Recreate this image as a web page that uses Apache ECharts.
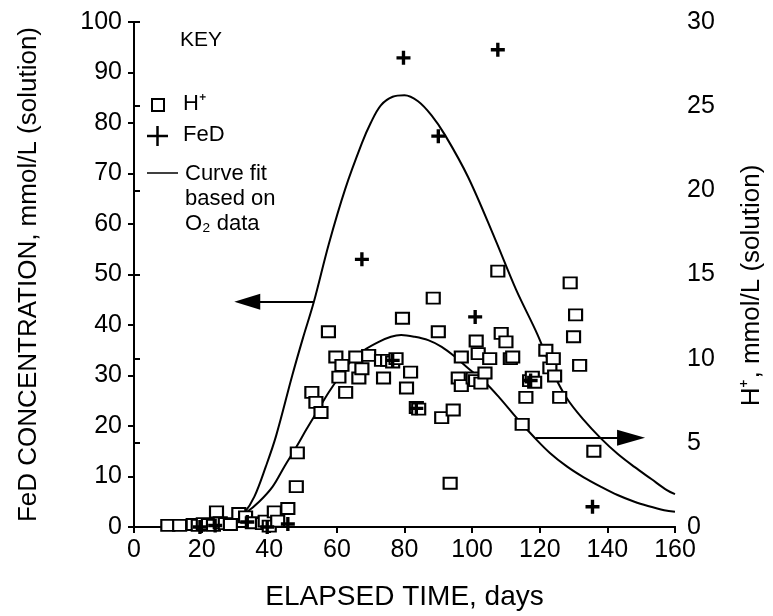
<!DOCTYPE html>
<html>
<head>
<meta charset="utf-8">
<script src="https://cdn.jsdelivr.net/npm/echarts@6/dist/echarts.min.js"></script>
<style>
html,body{margin:0;padding:0;background:#fff;}
#chart{width:773px;height:616px;}
</style>
</head>
<body>
<div id="chart"></div>
<script>
// ---- data ----
var xTicks = [0, 20, 40, 60, 80, 100, 120, 140, 160];
var feTicks = [0, 10, 20, 30, 40, 50, 60, 70, 80, 90, 100];
var hTicks = [0, 5, 10, 15, 20, 25, 30];

// H+ measurements (right axis, mmol/L)
var hDays = [10, 13.5, 17.5, 19, 20.5, 22, 23.5, 24.4, 25.5, 27, 28.5, 31, 33, 35, 38, 38.8, 40, 41.5, 42.5, 45.5, 48, 48.3,
  52.6, 53.8, 55.3, 57.5, 59.7, 60.6, 61.5, 62.6, 65.6, 66.5, 67.4, 69.4, 73.2, 73.8, 75, 76.5, 77.5, 79.4, 80.6, 81.8,
  83.5, 84.2, 88.5, 90, 91, 93.5, 94.4, 95.9, 96.8, 96.8, 100.3, 101, 101.2, 101.8, 102.6, 103.8, 105.2, 107.6, 108.6,
  110, 111.3, 112, 114.8, 115.9, 117, 117.8, 118.5, 121.8, 123, 124, 124.4, 125.9, 129, 130, 130.6, 131.8, 136];
var hVals = [0.1, 0.1, 0.15, 0.1, 0.2, 0.15, 0.1, 0.9, 0.25, 0.2, 0.15, 0.8, 0.6, 0.25, 0.2, 0.35, 0.05, 0.9, 0.35, 1.1, 2.4, 4.4,
  8.0, 7.4, 6.8, 11.6, 10.1, 8.9, 9.6, 8.0, 10.1, 8.85, 9.4, 10.2, 9.9, 8.85, 9.9, 9.8, 10.0, 12.4, 8.26, 9.2,
  7.1, 7.0, 13.6, 11.6, 6.5, 2.6, 6.95, 8.85, 8.4, 10.1, 8.85, 8.7, 11.05, 10.3, 8.55, 9.15, 10.0, 15.2, 11.5,
  11.0, 10.0, 10.1, 6.1, 7.7, 8.7, 8.9, 8.6, 10.5, 9.45, 10.0, 8.97, 7.7, 14.5, 11.3, 12.6, 9.6, 4.5];

// FeD measurements (left axis, mmol/L)
var feDays = [19.5, 24, 33.5, 39.4, 45.5, 67.4, 76.5, 79.7, 83.5, 90, 100.9, 107.6, 117.3, 135.6];
var feVals = [0, 0.3, 1.0, 0, 0.6, 53, 33, 92.9, 23.5, 77.4, 41.6, 94.5, 29, 4.0];

// Curve fit based on O2 data, FeD (left axis)
var fitFeDays = [26, 29.5, 32.6, 35.6, 39, 42, 46.8, 50, 53.2, 57.6, 62.5, 67.4, 70, 73, 76.5, 80, 84, 88, 92, 98.8, 106.8, 113, 119.4, 124, 128, 133, 138, 143, 148, 153, 157.6, 160];
var fitFeVals = [0.3, 1.2, 2.8, 6, 12, 18, 30, 37.5, 44.6, 56, 67, 76, 80, 83.5, 85.2, 85.5, 84.3, 81.5, 77.6, 69.3, 57, 47, 38, 30.5, 25.5, 21.2, 17.6, 14.5, 11.9, 9.5, 7.3, 6.5];

// Curve fit based on O2 data, H+ (right axis)
var fitHDays = [26, 30, 33, 37, 41, 44.5, 48, 51, 54, 57.6, 61, 64.4, 68, 72.4, 76, 79, 83, 87, 91, 95, 99, 103.8, 108, 113.5, 118.5, 123, 128, 133, 138, 143, 148, 152, 156.8, 160];
var fitHVals = [0.2, 0.5, 0.83, 1.5, 2.4, 3.6, 4.75, 5.8, 6.8, 8.0, 9.0, 9.9, 10.5, 11.0, 11.3, 11.4, 11.3, 11.1, 10.7, 10.1, 9.4, 8.6, 7.7, 6.4, 5.3, 4.4, 3.6, 2.95, 2.4, 1.9, 1.5, 1.25, 1.0, 0.9];

// arrows pointing to the axis each curve belongs to
var feArrow = {fromDay: 53.2, toDay: 33.5, level: 44.6};
var hArrow = {fromDay: 118.8, toDay: 147, level: 5.3};

function pairs(xs, ys) { return xs.map(function (x, i) { return [x, ys[i]]; }); }

var FONT = '"Liberation Sans", Arial, Helvetica, sans-serif';
var plus = 'path://M3.8,0H6.2V3.8H10V6.2H6.2V10H3.8V6.2H0V3.8H3.8Z';

var chart = echarts.init(document.getElementById('chart'), null, {renderer: 'canvas'});
var axisLine = {show: true, lineStyle: {color: '#000', width: 2}};
var tick = {show: true, inside: false, length: 6, lineStyle: {color: '#000', width: 2}};
var lab = {color: '#000', fontFamily: FONT, fontSize: 25};

var option = {
  animation: false,
  backgroundColor: '#fff',
  grid: {left: 134, right: 95, top: 22, bottom: 89, containLabel: false},
  xAxis: [{
    type: 'value', min: 0, max: 160, interval: 20, position: 'bottom',
    name: 'ELAPSED TIME, days', nameLocation: 'middle', nameGap: 56,
    nameTextStyle: {color: '#000', fontFamily: FONT, fontSize: 28},
    axisLine: axisLine, axisTick: tick, splitLine: {show: false},
    axisLabel: Object.assign({margin: 11}, lab)
  }, {
    type: 'value', min: 0, max: 160, position: 'top',
    axisLine: axisLine, axisTick: {show: false}, axisLabel: {show: false}, splitLine: {show: false}
  }],
  yAxis: [{
    type: 'value', min: 0, max: 100, interval: 10, position: 'left',
    name: 'FeD CONCENTRATION, mmol/L (solution)', nameLocation: 'middle', nameGap: 92,
    nameTextStyle: {color: '#000', fontFamily: FONT, fontSize: 26},
    axisLine: axisLine, axisTick: tick, splitLine: {show: false},
    axisLabel: Object.assign({margin: 12}, lab)
  }, {
    type: 'value', min: 0, max: 30, interval: 5, position: 'right',
    name: 'H\u207A, mmol/L (solution)', nameLocation: 'middle', nameGap: 64, nameRotate: 90,
    nameTextStyle: {color: '#000', fontFamily: FONT, fontSize: 26, padding: [0, 22, 0, 0]},
    axisLine: axisLine, axisTick: tick, splitLine: {show: false},
    axisLabel: Object.assign({margin: 12}, lab)
  }],
  series: [{
    type: 'line', name: 'fitFe', xAxisIndex: 0, yAxisIndex: 0, smooth: 0.35, showSymbol: false,
    data: pairs(fitFeDays, fitFeVals), lineStyle: {color: '#000', width: 2}, z: 3,
    markLine: {
      silent: true, animation: false, label: {show: false},
      lineStyle: {color: '#000', width: 2, type: 'solid'},
      symbol: ['none', 'triangle'], symbolSize: [16, 26],
      data: [[{coord: [feArrow.fromDay, feArrow.level]}, {coord: [feArrow.toDay, feArrow.level]}]]
    }
  }, {
    type: 'line', name: 'fitH', xAxisIndex: 0, yAxisIndex: 1, smooth: 0.35, showSymbol: false,
    data: pairs(fitHDays, fitHVals), lineStyle: {color: '#000', width: 2}, z: 3,
    markLine: {
      silent: true, animation: false, label: {show: false},
      lineStyle: {color: '#000', width: 2, type: 'solid'},
      symbol: ['none', 'triangle'], symbolSize: [16, 28],
      data: [[{coord: [hArrow.fromDay, hArrow.level]}, {coord: [hArrow.toDay, hArrow.level]}]]
    }
  }, {
    type: 'scatter', name: 'H+', xAxisIndex: 0, yAxisIndex: 1,
    data: pairs(hDays, hVals), symbol: 'rect', symbolSize: [13, 11],
    itemStyle: {color: '#fff', borderColor: '#000', borderWidth: 2, opacity: 1}, z: 4
  }, {
    type: 'scatter', name: 'FeD', xAxisIndex: 0, yAxisIndex: 0,
    data: pairs(feDays, feVals), symbol: plus, symbolSize: 14,
    itemStyle: {color: '#000', opacity: 1}, z: 5
  }],
  graphic: [
    {type: 'text', left: 180, top: 30, style: {text: 'KEY', font: '21px ' + FONT, fill: '#000'}},
    {type: 'rect', shape: {x: 152, y: 99, width: 12, height: 12}, style: {fill: '#fff', stroke: '#000', lineWidth: 2}},
    {type: 'text', left: 183, top: 93, style: {text: 'H\u207A', font: '22px ' + FONT, fill: '#000'}},
    {type: 'line', shape: {x1: 147, y1: 136, x2: 168, y2: 136}, style: {stroke: '#000', lineWidth: 2.5}},
    {type: 'line', shape: {x1: 157.5, y1: 126, x2: 157.5, y2: 146}, style: {stroke: '#000', lineWidth: 2.5}},
    {type: 'text', left: 183, top: 124, style: {text: 'FeD', font: '22px ' + FONT, fill: '#000'}},
    {type: 'line', shape: {x1: 147, y1: 173, x2: 178, y2: 173}, style: {stroke: '#000', lineWidth: 1.5}},
    {type: 'text', left: 185, top: 161, style: {text: 'Curve fit\nbased on\nO\u2082 data', font: '22px ' + FONT, lineHeight: 25, fill: '#000'}}
  ]
};
chart.setOption(option);
</script>
</body>
</html>
